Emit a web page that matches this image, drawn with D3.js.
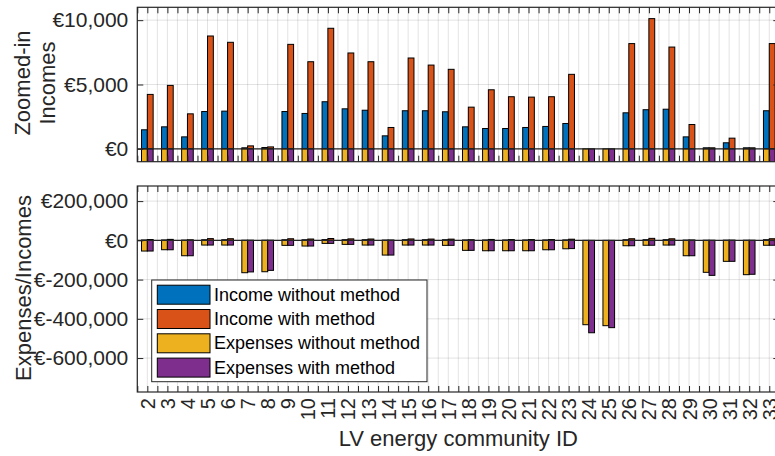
<!DOCTYPE html>
<html>
<head>
<meta charset="utf-8">
<script src="https://cdn.jsdelivr.net/npm/d3@7"></script>
<style>
  body { margin: 0; background: #fff; }
  svg { display: block; font-family: "Liberation Sans", Arial, sans-serif; }
  .tick line { stroke: #262626; }
  .tick text { fill: #262626; font-size: 21px; }
</style>
</head>
<body>
<div id="chart"></div>
<script>
// community IDs on the x axis
const categories = [2, 3, 4, 5, 6, 7, 8, 9, 10, 11, 12, 13, 14, 15, 16, 17,
  18, 19, 20, 21, 22, 23, 24, 25, 26, 27, 28, 29, 30, 31, 32, 33];

// euros
const incomeWithout = [1480, 1710, 930, 2900, 2930, 80, 100, 2900, 2750, 3660, 3110, 3000, 1010, 2960, 2960, 2880,
  1710, 1580, 1580, 1660, 1740, 1970, 0, 0, 2800, 3040, 3080, 930, 80, 470, 80, 2960];
const incomeWith = [4230, 4930, 2720, 8770, 8280, 230, 150, 8120, 6770, 9370, 7450, 6770, 1660, 7060, 6510, 6180,
  3240, 4590, 4050, 4020, 4050, 5790, 0, 0, 8180, 10120, 7910, 1890, 80, 830, 80, 8180];
const expensesWithout = [-54500, -47800, -78500, -24000, -24000, -165000, -160000, -25500, -29000, -15500, -20500, -24000, -75000, -24000, -24000, -25500,
  -51000, -53000, -53000, -53000, -48000, -43000, -430000, -435000, -27500, -25000, -24000, -78500, -163000, -107000, -175000, -25000];
const expensesWith = [-54500, -48000, -78500, -24000, -24000, -161000, -153000, -25500, -29000, -15500, -20500, -24000, -75000, -24000, -24000, -25500,
  -51000, -53000, -53000, -53000, -48000, -42000, -471000, -445000, -27500, -25000, -24000, -78500, -178500, -107000, -173000, -25000];

const seriesNames = ["Income without method", "Income with method", "Expenses without method", "Expenses with method"];
const seriesColors = ["#0072BD", "#D95319", "#EDB120", "#7E2F8E"];

const topTicks = [0, 5000, 10000];
const bottomTicks = [-600000, -400000, -200000, 0, 200000];

let width = 775,
    height = 456,
    left = 137.3,
    right = 779.3;

const svg = d3.select("#chart")
  .append("svg")
  .attr("width", width)
  .attr("height", height);

let x = d3.scaleLinear()
  .domain([1.5, 33.5])
  .range([left, right]);

// ticks at every category and halfway between
let xTicks = [];
categories.forEach(c => { xTicks.push(c - 0.5, c); });
xTicks.push(categories[categories.length - 1] + 0.5);

const euro = v => "€" + d3.format(",")(v).replace("−", "-");

const series = [
  { values: incomeWithout, side: -1, color: seriesColors[0] },
  { values: incomeWith, side: 0, color: seriesColors[1] },
  { values: expensesWithout, side: -1, color: seriesColors[2] },
  { values: expensesWith, side: 0, color: seriesColors[3] }
];
const barW = 0.29;

function panel(id, top, bottom, domain, yTicks, showLabels) {
  let y = d3.scaleLinear().domain(domain).range([bottom, top]);
  let g = svg.append("g");

  g.append("clipPath").attr("id", id)
    .append("rect")
    .attr("x", left).attr("y", top)
    .attr("width", right - left).attr("height", bottom - top);

  // grid
  let grid = g.append("g").attr("stroke", "#262626").attr("stroke-opacity", 0.13);
  grid.selectAll(".vg").data(xTicks).join("line")
    .attr("x1", d => x(d)).attr("x2", d => x(d))
    .attr("y1", top).attr("y2", bottom);
  grid.selectAll(".hg").data(yTicks).join("line")
    .attr("x1", left).attr("x2", right)
    .attr("y1", d => y(d)).attr("y2", d => y(d));

  // bars
  let bars = g.append("g").attr("clip-path", `url(#${id})`);
  series.forEach(s => {
    bars.append("g")
      .selectAll("rect")
      .data(s.values)
      .join("rect")
      .attr("x", (d, i) => x(categories[i] + s.side * barW))
      .attr("width", x(barW) - x(0))
      .attr("y", d => y(Math.max(d, 0)))
      .attr("height", d => Math.abs(y(d) - y(0)))
      .attr("fill", s.color)
      .attr("stroke", "#000")
      .attr("stroke-width", 1);
  });

  // baseline
  g.append("line")
    .attr("x1", left).attr("x2", right)
    .attr("y1", y(0)).attr("y2", y(0))
    .attr("stroke", "#262626").attr("stroke-width", 1.4);

  // ticks on all four sides
  g.append("g")
    .attr("transform", `translate(0,${top})`)
    .call(d3.axisTop(x).tickValues(xTicks).tickSize(-6).tickSizeOuter(0).tickFormat(""))
    .call(a => a.select(".domain").remove());

  let xb = g.append("g")
    .attr("transform", `translate(0,${bottom})`)
    .call(d3.axisBottom(x).tickValues(xTicks).tickSize(-6).tickSizeOuter(0)
      .tickFormat(d => (showLabels && Number.isInteger(d)) ? d : ""))
    .call(a => a.select(".domain").remove());
  xb.selectAll("text")
    .style("font-size", "20px")
    .attr("transform", "rotate(-90)")
    .attr("x", -6)
    .attr("y", 0)
    .attr("dy", "0.35em")
    .attr("text-anchor", "end");

  g.append("g")
    .attr("transform", `translate(${left},0)`)
    .call(d3.axisLeft(y).tickValues(yTicks).tickSize(-6).tickSizeOuter(0).tickPadding(9).tickFormat(euro))
    .call(a => a.select(".domain").remove());

  g.append("g")
    .attr("transform", `translate(${right},0)`)
    .call(d3.axisRight(y).tickValues(yTicks).tickSize(-6).tickSizeOuter(0).tickFormat(""))
    .call(a => a.select(".domain").remove());

  // box
  g.append("rect")
    .attr("x", left).attr("y", top)
    .attr("width", right - left).attr("height", bottom - top)
    .attr("fill", "none")
    .attr("stroke", "#262626")
    .attr("stroke-width", 1.2);

  return y;
}

panel("clipTop", 7.3, 161.7, [-1000, 11000], topTicks, false);
panel("clipBottom", 186, 392, [-773000, 277000], bottomTicks, true);

// axis titles
svg.append("text")
  .attr("transform", "translate(22,83) rotate(-90)")
  .attr("text-anchor", "middle")
  .attr("dominant-baseline", "central")
  .attr("fill", "#262626")
  .style("font-size", "22px")
  .text("Zoomed-in");
svg.append("text")
  .attr("transform", "translate(47,83) rotate(-90)")
  .attr("text-anchor", "middle")
  .attr("dominant-baseline", "central")
  .attr("fill", "#262626")
  .style("font-size", "22px")
  .text("Incomes");
svg.append("text")
  .attr("transform", "translate(23,288) rotate(-90)")
  .attr("text-anchor", "middle")
  .attr("dominant-baseline", "central")
  .attr("fill", "#262626")
  .style("font-size", "22px")
  .text("Expenses/Incomes");
svg.append("text")
  .attr("x", (left + right) / 2)
  .attr("y", 446)
  .attr("text-anchor", "middle")
  .attr("fill", "#262626")
  .style("font-size", "22px")
  .text("LV energy community ID");

// legend
let legend = svg.append("g");
legend.append("rect")
  .attr("x", 151.7).attr("y", 280)
  .attr("width", 275.3).attr("height", 101.7)
  .attr("fill", "#fff")
  .attr("stroke", "#262626");
seriesNames.forEach((name, i) => {
  let cy = 294.7 + i * 24.3;
  legend.append("rect")
    .attr("x", 157.3).attr("y", cy - 9.5)
    .attr("width", 52.7).attr("height", 19)
    .attr("fill", seriesColors[i])
    .attr("stroke", "#000");
  legend.append("text")
    .attr("x", 214).attr("y", cy)
    .attr("dominant-baseline", "central")
    .style("font-size", "18px")
    .attr("fill", "#000")
    .text(name);
});
</script>
</body>
</html>
